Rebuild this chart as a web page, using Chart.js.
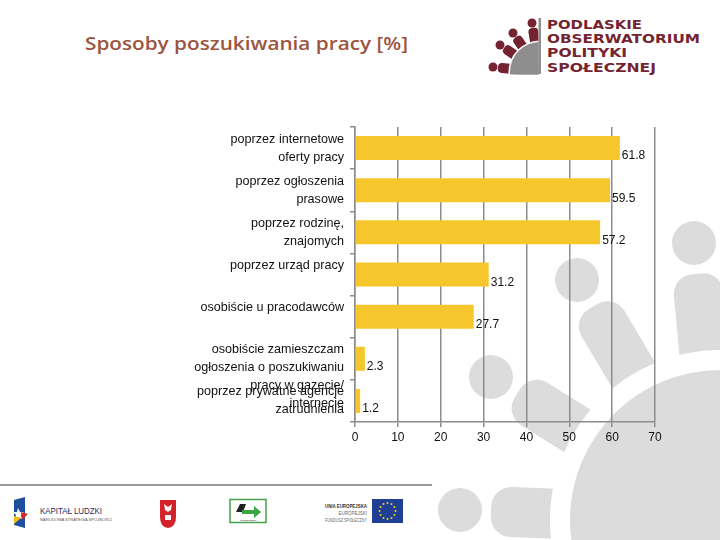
<!DOCTYPE html>
<html>
<head>
<meta charset="utf-8">
<script src="https://cdn.jsdelivr.net/npm/chart.js@4/dist/chart.umd.min.js"></script>
<style>
  html, body { margin:0; padding:0; background:#ffffff; }
  #wrap { position:relative; width:720px; height:540px; overflow:hidden; background:#fff; }
  #bg { position:absolute; left:0; top:0; }
  #chart { position:absolute; left:0; top:0; }
</style>
</head>
<body>
<div id="wrap">
  <svg id="bg" width="720" height="540" xmlns="http://www.w3.org/2000/svg">
    <defs>
      <clipPath id="logoClip"><rect x="470" y="0" width="68.5" height="74.5"/></clipPath>
    </defs>
    <g id="watermark"></g>
    <text x="85" y="50" font-family="'Open Sans', 'Liberation Sans', sans-serif" font-weight="600" font-size="18" fill="#9b5540" textLength="323" lengthAdjust="spacingAndGlyphs">Sposoby poszukiwania pracy [%]</text>
    <g id="logo" clip-path="url(#logoClip)"></g>
    <rect x="538.5" y="18" width="2.5" height="56" fill="#8e8e8e"/>
    <g font-family="'DejaVu Sans', sans-serif" font-weight="bold" font-size="13" fill="#742430">
      <text x="547" y="29" textLength="95" lengthAdjust="spacingAndGlyphs">PODLASKIE</text>
      <text x="547" y="43" textLength="153" lengthAdjust="spacingAndGlyphs">OBSERWATORIUM</text>
      <text x="547" y="57" textLength="80" lengthAdjust="spacingAndGlyphs">POLITYKI</text>
      <text x="547" y="71.5" textLength="109" lengthAdjust="spacingAndGlyphs">SPOŁECZNEJ</text>
    </g>
    <!-- footer -->
    <line x1="0" y1="485" x2="432" y2="485" stroke="#9a9a9a" stroke-width="2"/>
    <polygon points="14,500 25,497 25,528 14,525" fill="#1f4e9c"/>
    <polygon points="18,508 20,512 24,512 21,515 22,519 18,517 15,519 16,515 13,512 17,512" fill="#ffffff"/>
    <polygon points="14,516 21,518 14,524" fill="#f2c019"/>
    <polygon points="21,512 28,514 22,520" fill="#d8262c"/>
    <text x="40" y="514" font-family="'Liberation Sans', sans-serif" font-size="8.5" fill="#1c2b5a" textLength="62" lengthAdjust="spacingAndGlyphs">KAPITAŁ LUDZKI</text>
    <text x="40" y="521" font-family="'Liberation Sans', sans-serif" font-size="4" fill="#555" textLength="72" lengthAdjust="spacingAndGlyphs">NARODOWA STRATEGIA SPÓJNOŚCI</text>
    <path d="M160,500 h16 v17 q0,10 -8,11 q-8,-1 -8,-11 z" fill="#d2232a"/>
    <path d="M164,504 l4,3 l4,-3 l-1,6 l-3,2 l-3,-2 z M165,515 h6 v5 h-6 z" fill="#f4f4f4"/>
    <rect x="230" y="499.5" width="36" height="23" fill="#ffffff" stroke="#46a04a" stroke-width="1.5"/>
    <polygon points="236,512 240,504 246,504 243,512" fill="#222"/>
    <polygon points="242,510 254,510 254,506 261,512 254,518 254,514 242,514" fill="#3aa542"/>
    <text x="248" y="520.5" text-anchor="middle" font-family="'Liberation Sans', sans-serif" font-size="2.5" fill="#333">SPOŁECZNEJ</text>
    <text x="367" y="508" text-anchor="end" font-family="'Liberation Sans', sans-serif" font-weight="bold" font-size="5" fill="#333" textLength="42" lengthAdjust="spacingAndGlyphs">UNIA EUROPEJSKA</text>
    <text x="367" y="515" text-anchor="end" font-family="'Liberation Sans', sans-serif" font-size="4.5" fill="#666">EUROPEJSKI</text>
    <text x="367" y="522" text-anchor="end" font-family="'Liberation Sans', sans-serif" font-size="4.5" fill="#666" textLength="42" lengthAdjust="spacingAndGlyphs">FUNDUSZ SPOŁECZNY</text>
    <rect x="372" y="499" width="31" height="24" fill="#1f3f95"/>
    <g id="euStars" fill="#f5d312"></g>
  </svg>
  <canvas id="chart" width="720" height="540"></canvas>
</div>
<script>
// ---------- DATA ----------
const categories = [
  ["poprzez internetowe", "oferty pracy"],
  ["poprzez ogłoszenia", "prasowe"],
  ["poprzez rodzinę,", "znajomych"],
  ["poprzez urząd pracy"],
  ["osobiście u pracodawców"],
  ["osobiście zamieszczam", "ogłoszenia o poszukiwaniu", "pracy w gazecie/", "internecie"],
  ["poprzez prywatne agencje", "zatrudnienia"]
];
const values = [61.8, 59.5, 57.2, 31.2, 27.7, 2.3, 1.2];
const xTickValues = [0, 10, 20, 30, 40, 50, 60, 70];

// ---------- decorative emblems (background) ----------
const NS = "http://www.w3.org/2000/svg";
function el(parent, name, attrs) {
  const e = document.createElementNS(NS, name);
  for (const k in attrs) e.setAttribute(k, attrs[k]);
  parent.appendChild(e);
  return e;
}
function emblem(g, o) {
  o.heads.forEach(([hx, hy]) => {
    const dx = o.cx - hx, dy = o.cy - hy;
    const dist = Math.hypot(dx, dy);
    const deg = Math.atan2(dy, dx) * 180 / Math.PI;
    el(g, "rect", {
      x: o.off, y: -o.bw / 2, width: dist - o.off, height: o.bw,
      rx: o.bw * 0.4, ry: o.bw * 0.4, fill: o.cBody,
      transform: `translate(${hx},${hy}) rotate(${deg})`
    });
  });
  el(g, "circle", { cx: o.cx, cy: o.cy, r: o.rw, fill: "#ffffff" });
  el(g, "circle", { cx: o.cx, cy: o.cy, r: o.rg, fill: o.cCircle });
  o.heads.forEach(([hx, hy]) => el(g, "circle", { cx: hx, cy: hy, r: o.hr, fill: o.cHead }));
}
emblem(document.getElementById("watermark"), {
  cx: 720, cy: 520, rg: 150, rw: 170,
  heads: [[694, 243], [577, 280], [491, 377], [460, 510]],
  hr: 22, off: 31, bw: 50, cHead: "#dcdcdc", cBody: "#dcdcdc", cCircle: "#dcdcdc"
});
emblem(document.getElementById("logo"), {
  cx: 540, cy: 72, rg: 30, rw: 31.5,
  heads: [[532, 23], [513, 33], [500, 45], [493, 67]],
  hr: 4.5, off: 5, bw: 10, cHead: "#742430", cBody: "#742430", cCircle: "#8e8e8e"
});
(function () {
  const g = document.getElementById("euStars");
  for (let i = 0; i < 12; i++) {
    const a = i * Math.PI / 6;
    el(g, "circle", { cx: 387.5 + 8 * Math.cos(a), cy: 511 + 8 * Math.sin(a), r: 1 });
  }
})();

// ---------- CHART ----------
const FONT = "'Liberation Sans', Arial, sans-serif";
const labelShift = { 3: [0, 1], 4: [0, 1], 5: [2, 0] }; // [blank lines before, after]

const valueLabels = {
  id: "valueLabels",
  afterDatasetsDraw(chart) {
    const ctx = chart.ctx;
    const meta = chart.getDatasetMeta(0);
    ctx.save();
    ctx.font = "12px " + FONT;
    ctx.fillStyle = "#111111";
    ctx.textAlign = "left";
    ctx.textBaseline = "middle";
    meta.data.forEach((bar, i) => {
      ctx.fillText(values[i].toFixed(1), bar.x + 2, bar.y + 8);
    });
    ctx.restore();
  }
};

new Chart(document.getElementById("chart"), {
  type: "bar",
  data: {
    labels: categories,
    datasets: [{
      data: values,
      backgroundColor: "#f6c72d",
      borderWidth: 0,
      categoryPercentage: 1,
      barPercentage: 0.57
    }]
  },
  options: {
    indexAxis: "y",
    responsive: false,
    animation: false,
    devicePixelRatio: 1,
    layout: { padding: { left: 0, right: 65, top: 127, bottom: 88 } },
    plugins: { legend: { display: false }, tooltip: { enabled: false }, title: { display: false } },
    scales: {
      y: {
        type: "category",
        grid: { drawOnChartArea: false, drawTicks: true, tickLength: 5, color: "#8c8c8c", lineWidth: 1.5, offset: true },
        border: { color: "#8c8c8c", width: 1.5 },
        ticks: {
          autoSkip: false,
          padding: 6,
          color: "#111111",
          font: { family: FONT, size: 12.6, lineHeight: 1.43 },
          callback: function (v, i) {
            const lines = categories[i].slice();
            const s = labelShift[i];
            if (s) {
              for (let k = 0; k < s[0]; k++) lines.unshift("");
              for (let k = 0; k < s[1]; k++) lines.push("");
            }
            return lines;
          }
        },
        afterFit(scale) { scale.width = 355; }
      },
      x: {
        min: xTickValues[0],
        max: xTickValues[xTickValues.length - 1],
        afterBuildTicks(scale) { scale.ticks = xTickValues.map(v => ({ value: v })); },
        grid: { color: "#8c8c8c", lineWidth: 1.5, drawTicks: true, tickLength: 5 },
        border: { color: "#8c8c8c", width: 1.5 },
        ticks: { padding: 3, color: "#111111", font: { family: FONT, size: 12 } },
        afterFit(scale) { scale.height = 30; }
      }
    }
  },
  plugins: [valueLabels]
});
</script>
</body>
</html>
